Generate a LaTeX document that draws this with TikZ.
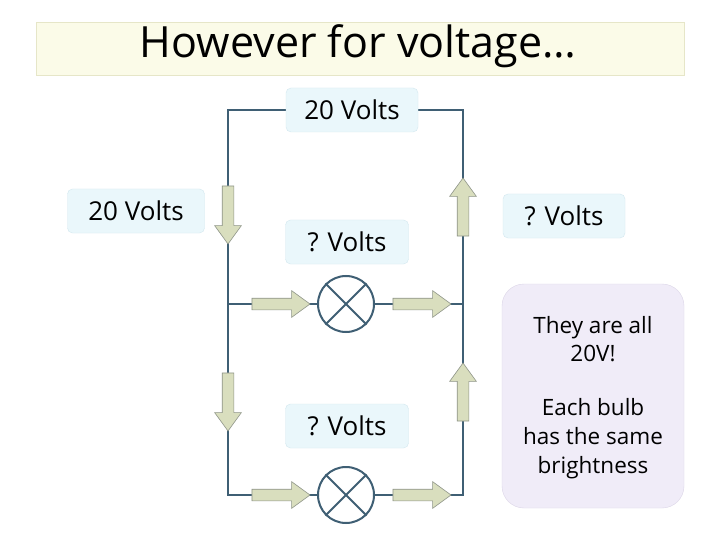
\documentclass[tikz,border=0pt]{standalone}
\usepackage{fontspec}
\setmainfont{Open Sans}
\usetikzlibrary{shapes.arrows}
\definecolor{wire}{HTML}{3F5F74}
\definecolor{arrfill}{HTML}{D9DEBE}
\definecolor{arrdraw}{HTML}{8E9488}
\definecolor{lblfill}{HTML}{EAF7FB}
\definecolor{lbldraw}{HTML}{D3E8EF}
\definecolor{notefill}{HTML}{F0ECF8}
\definecolor{notedraw}{HTML}{DCD6E8}
\definecolor{titlefill}{HTML}{FBFBE8}
\definecolor{titledraw}{HTML}{E6E6C8}
\begin{document}
\begin{tikzpicture}[x=1pt,y=-1pt,
  wireline/.style={draw=wire,line width=1.8pt},
  lbl/.style={rectangle,rounded corners=5pt,fill=lblfill,draw=lbldraw,font=\fontsize{26}{30}\selectfont,minimum height=44pt,inner xsep=4pt},
  flow/.style={single arrow,fill=arrfill,draw=arrdraw,line width=0.6pt,minimum height=58pt,inner xsep=0pt,inner ysep=5.5pt,single arrow head extend=7.5pt,single arrow head indent=0pt,single arrow tip angle=72},
  bulb/.style={circle,draw=wire,line width=2pt,fill=white,minimum size=56pt,inner sep=0pt}]
\useasboundingbox (0,0) rectangle (720,540);
\fill[white] (0,0) rectangle (720,540);
% title
\node[rectangle,fill=titlefill,draw=titledraw,minimum width=648pt,minimum height=53pt] (tbox) at (360,48.5) {};
\node[font=\fontsize{43}{46}\selectfont] (title) at (358,46) {However for voltage…};
% wires
\coordinate (tl) at (228,110); \coordinate (tr) at (463,110);
\coordinate (ml) at (228,304); \coordinate (mr) at (463,304);
\coordinate (bl) at (228,495); \coordinate (br) at (463,495);
\draw[wireline] (ml) -- (tl) -- (tr) -- (mr);
\draw[wireline] (ml) -- (bl) -- (br) -- (mr);
\draw[wireline] (ml) -- (mr);
% bulbs
\foreach \n/\y in {b1/304,b2/495}{
  \node[bulb] (\n) at (346,\y) {};
  \draw[wire,line width=2pt] (\n.45) -- (\n.225) (\n.135) -- (\n.315);
}
% flow arrows
\node[flow,rotate=-90] (d1) at (228,211) {};
\node[flow,rotate=-90] (d2) at (228,398) {};
\node[flow,rotate=90] (u1) at (463,211) {};
\node[flow,rotate=90] (u2) at (463,396) {};
\node[flow] (r1) at (277,304) {};
\node[flow] (r2) at (418,304) {};
\node[flow] (r3) at (277,495) {};
\node[flow] (r4) at (418,495) {};
% labels
\node[lbl,minimum width=132pt] (top) at (352,110) {20 Volts};
\node[lbl,minimum width=137pt] (left) at (136,211) {20 Volts};
\node[lbl,minimum width=123pt] (q1) at (347,242) {? Volts};
\node[lbl,minimum width=122pt] (q2) at (564,216) {? Volts};
\node[lbl,minimum width=123pt] (q3) at (347,426) {? Volts};
% note
\node[rectangle,rounded corners=22pt,fill=notefill,draw=notedraw,minimum width=182pt,minimum height=224pt] (note) at (593,396) {};
\node[align=center,font=\fontsize{22.5}{28.5}\selectfont] (n1) at (593,339) {They are all\\20V!};
\node[align=center,font=\fontsize{22.5}{29}\selectfont] (n2) at (593,439) {Each bulb\\has the same\\brightness};
\end{tikzpicture}
\end{document}
